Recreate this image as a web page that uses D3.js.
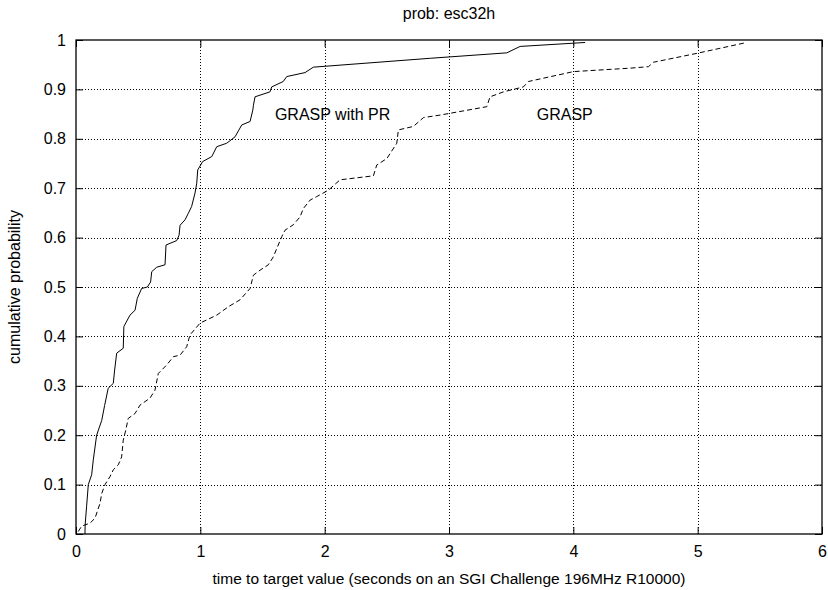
<!DOCTYPE html>
<html>
<head>
<meta charset="utf-8">
<script src="https://cdn.jsdelivr.net/npm/d3@7"></script>
<style>
  html, body { margin: 0; padding: 0; background: #fff; }
  svg { display: block; }
  text { font-family: "Liberation Sans", Arial, Helvetica, sans-serif; fill: #000; }
</style>
</head>
<body>
<svg id="chart" width="828" height="590"></svg>
<script>
// ---- data ----
const title = "prob: esc32h";
const xLabel = "time to target value (seconds on an SGI Challenge 196MHz R10000)";
const yLabel = "cumulative probability";
const xTicks = [0, 1, 2, 3, 4, 5, 6];
const xTickLabels = ["0", "1", "2", "3", "4", "5", "6"];
const yTicks = [0, 0.1, 0.2, 0.3, 0.4, 0.5, 0.6, 0.7, 0.8, 0.9, 1];
const yTickLabels = ["0", "0.1", "0.2", "0.3", "0.4", "0.5", "0.6", "0.7", "0.8", "0.9", "1"];

const graspPRTime = [0.072,0.074,0.085,0.099,0.126,0.139,0.166,0.207,0.23,0.259,0.3,0.31,0.327,0.38,0.385,0.434,0.475,0.493,0.528,0.574,0.6,0.609,0.649,0.716,0.724,0.81,0.829,0.837,0.877,0.903,0.93,0.957,0.971,0.979,1.019,1.092,1.132,1.212,1.279,1.306,1.333,1.4,1.422,1.427,1.44,1.56,1.574,1.667,1.695,1.842,1.909,2.85,3.465,3.572,4.095];
const graspPRProb = [0.0,0.02,0.055,0.1,0.12,0.15,0.2,0.23,0.26,0.295,0.305,0.33,0.366,0.376,0.42,0.443,0.453,0.477,0.497,0.5,0.51,0.531,0.54,0.545,0.585,0.594,0.605,0.625,0.636,0.649,0.663,0.69,0.71,0.737,0.754,0.764,0.784,0.791,0.804,0.816,0.828,0.835,0.858,0.868,0.885,0.895,0.905,0.916,0.926,0.934,0.945,0.963,0.974,0.987,0.995];

const graspTime = [0.018,0.046,0.113,0.153,0.193,0.207,0.233,0.273,0.3,0.34,0.367,0.38,0.4,0.42,0.475,0.515,0.595,0.635,0.662,0.729,0.783,0.837,0.89,0.917,0.998,1.132,1.225,1.319,1.4,1.427,1.48,1.547,1.587,1.615,1.655,1.681,1.748,1.802,1.829,1.883,1.936,2.03,2.124,2.392,2.419,2.5,2.58,2.593,2.713,2.795,2.928,3.304,3.33,3.438,3.598,3.639,4.0,4.457,4.604,4.645,4.994,5.395];
const graspProb = [0.005,0.016,0.022,0.032,0.062,0.082,0.1,0.116,0.13,0.14,0.156,0.19,0.21,0.234,0.244,0.261,0.275,0.291,0.325,0.342,0.359,0.362,0.379,0.403,0.427,0.443,0.46,0.474,0.497,0.524,0.534,0.545,0.561,0.578,0.602,0.615,0.626,0.642,0.659,0.676,0.683,0.696,0.717,0.725,0.747,0.76,0.791,0.818,0.825,0.843,0.848,0.865,0.885,0.895,0.905,0.916,0.936,0.943,0.946,0.955,0.973,0.995];

const annotations = [
  { text: "GRASP with PR", t: 1.6, p: 0.85 },
  { text: "GRASP", t: 3.706, p: 0.85 }
];

// ---- layout ----
const margin = { left: 76, right: 6, top: 40, bottom: 56 };
const W = 828, H = 590;
const svg = d3.select("#chart");
const x = d3.scaleLinear().domain([0, 6]).range([margin.left, W - margin.right]);
const y = d3.scaleLinear().domain([0, 1]).range([H - margin.bottom, margin.top]);
const fs = "16px";

// grid
const grid = svg.append("g").attr("stroke", "#000").attr("stroke-width", 1).attr("stroke-dasharray", "1,2");
grid.selectAll("line.gx").data(xTicks.filter(d => d > 0 && d < 6)).join("line")
  .attr("x1", d => Math.round(x(d)) + 0.5).attr("x2", d => Math.round(x(d)) + 0.5)
  .attr("y1", y(0)).attr("y2", y(1));
grid.selectAll("line.gy").data(yTicks.filter(d => d > 0 && d < 1)).join("line")
  .attr("x1", x(0)).attr("x2", x(6))
  .attr("y1", d => Math.round(y(d)) + 0.5).attr("y2", d => Math.round(y(d)) + 0.5);

// axes with inward ticks
const tl = 7;
svg.append("g").attr("transform", `translate(0,${y(0)})`)
  .call(d3.axisBottom(x).tickValues(xTicks).tickFormat((d, i) => xTickLabels[i]).tickSizeInner(-tl).tickSizeOuter(0).tickPadding(12))
  .call(g => g.select(".domain").remove())
  .call(g => g.selectAll("text").attr("font-size", fs).attr("font-family", null));
svg.append("g").attr("transform", `translate(0,${y(1)})`)
  .call(d3.axisTop(x).tickValues(xTicks).tickSizeInner(-tl).tickSizeOuter(0).tickFormat(""))
  .call(g => g.select(".domain").remove());
svg.append("g").attr("transform", `translate(${x(0)},0)`)
  .call(d3.axisLeft(y).tickValues(yTicks).tickFormat((d, i) => yTickLabels[i]).tickSizeInner(-tl).tickSizeOuter(0).tickPadding(10))
  .call(g => g.select(".domain").remove())
  .call(g => g.selectAll("text").attr("font-size", fs).attr("font-family", null));
svg.append("g").attr("transform", `translate(${x(6)},0)`)
  .call(d3.axisRight(y).tickValues(yTicks).tickSizeInner(-tl).tickSizeOuter(0).tickFormat(""))
  .call(g => g.select(".domain").remove());

// frame
svg.append("rect").attr("x", x(0)).attr("y", y(1))
  .attr("width", x(6) - x(0)).attr("height", y(0) - y(1))
  .attr("fill", "none").attr("stroke", "#000").attr("stroke-width", 1.3);

// curves
const line = d3.line().x(d => x(d[0])).y(d => y(d[1]));
const prData = graspPRTime.map((t, i) => [t, graspPRProb[i]]);
const gData = graspTime.map((t, i) => [t, graspProb[i]]);
svg.append("path").datum(prData).attr("d", line)
  .attr("fill", "none").attr("stroke", "#000").attr("stroke-width", 1);
svg.append("path").datum(gData).attr("d", line)
  .attr("fill", "none").attr("stroke", "#000").attr("stroke-width", 1).attr("stroke-dasharray", "5,3");

// annotations
svg.selectAll("text.ann").data(annotations).join("text")
  .attr("class", "ann")
  .attr("x", d => x(d.t)).attr("y", d => y(d.p))
  .attr("dominant-baseline", "central")
  .attr("font-size", fs).text(d => d.text);

// titles
svg.append("text").attr("x", (x(0) + x(6)) / 2).attr("y", 19)
  .attr("text-anchor", "middle").attr("font-size", fs).text(title);
svg.append("text").attr("x", (x(0) + x(6)) / 2).attr("y", 584)
  .attr("text-anchor", "middle").attr("font-size", "15.5px").text(xLabel);
svg.append("text").attr("transform", `translate(20,${(y(0) + y(1)) / 2}) rotate(-90)`)
  .attr("text-anchor", "middle").attr("font-size", fs).text(yLabel);
</script>
</body>
</html>
